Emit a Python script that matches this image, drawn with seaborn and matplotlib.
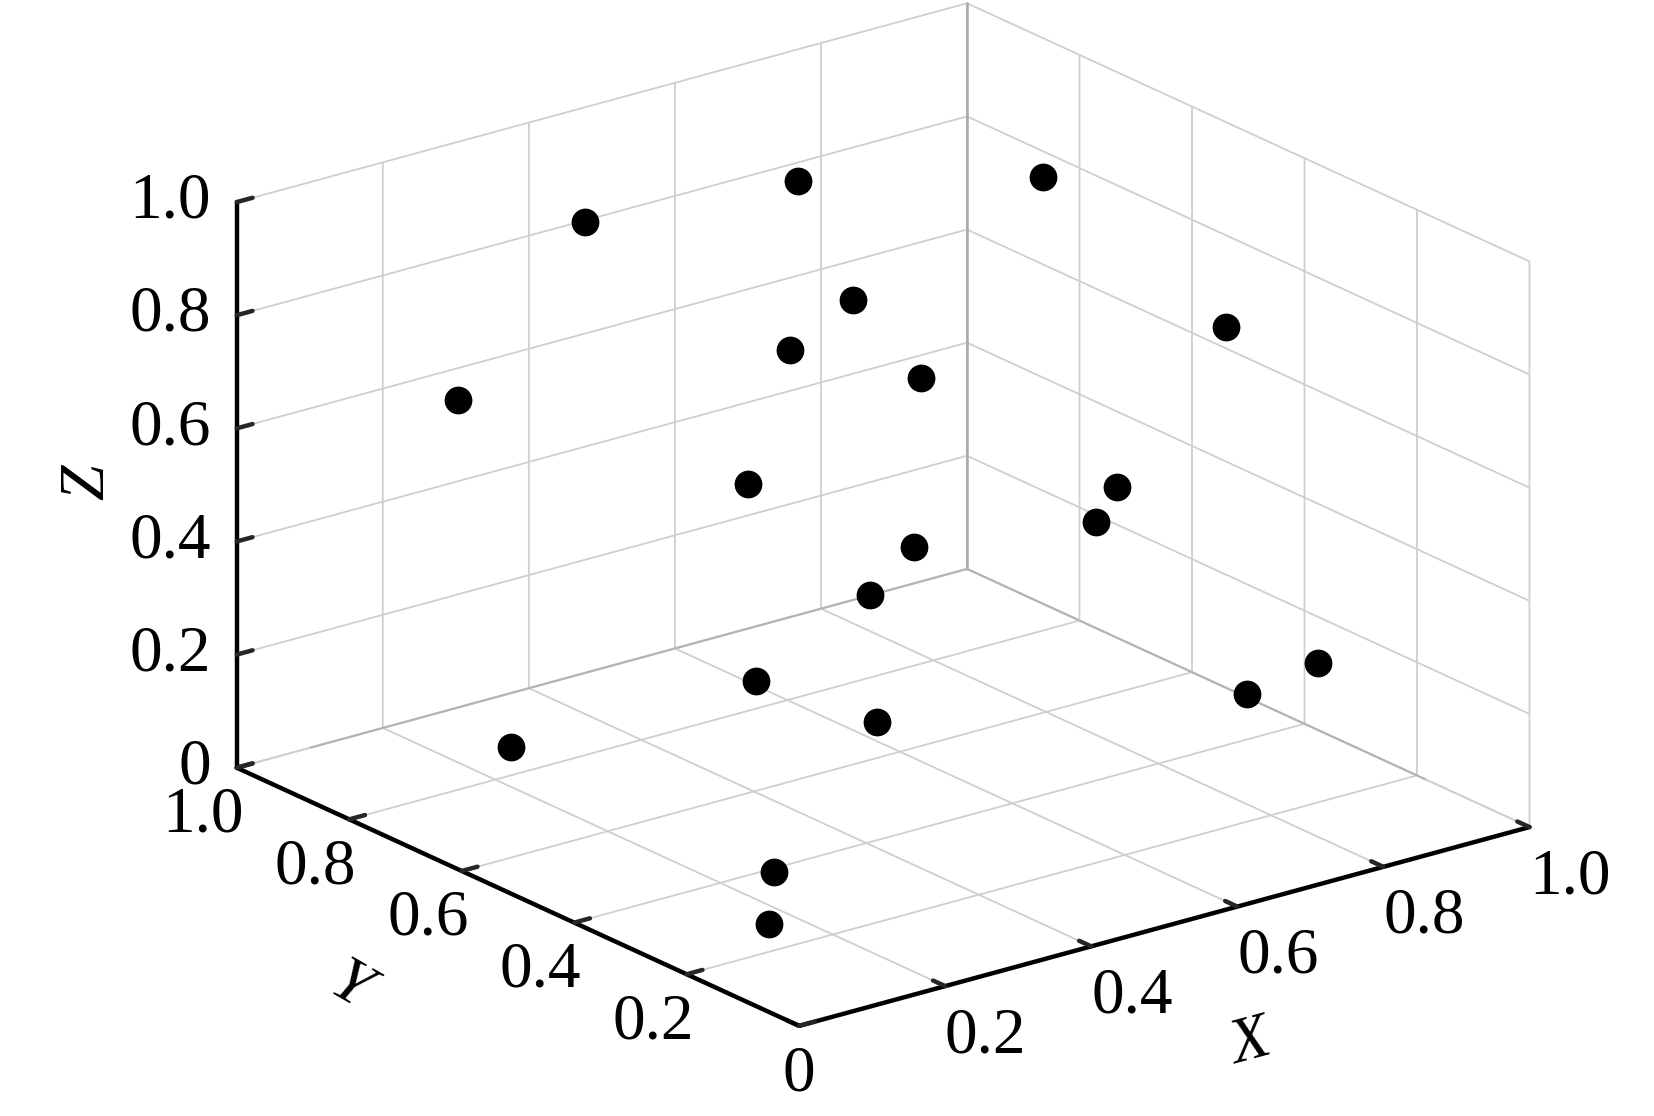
import seaborn as sns
import matplotlib.pyplot as plt
from mpl_toolkits.mplot3d import proj3d

# sample points
x_vals = [0.400, 0.614, 0.796, 0.613, 0.257, 0.513, 0.739, 0.110, 0.123, 0.551,
          0.714, 0.658, 0.752, 0.787, 0.652, 0.365, 0.337, 0.067, 0.058, 0.020]
y_vals = [0.90, 0.80, 0.60, 0.70, 0.35, 0.45, 0.20, 0.75, 0.25, 0.15,
          0.40, 0.65, 0.85, 0.10, 0.05, 0.55, 0.30, 0.60, 0.12, 0.08]
z_vals = [0.870, 0.913, 0.948, 0.748, 0.944, 0.760, 0.885, 0.725, 0.801, 0.691,
          0.457, 0.318, 0.109, 0.319, 0.335, 0.230, 0.282, 0.196, 0.196, 0.137]

ticks = [0, 0.2, 0.4, 0.6, 0.8, 1.0]
tick_labels = ["0", "0.2", "0.4", "0.6", "0.8", "1.0"]

sns.set_style("white")
plt.rcParams["font.family"] = ["Liberation Serif", "DejaVu Sans"]

fig = plt.figure(figsize=(16.54, 11.16), dpi=100)
ax = fig.add_axes([0.0248, 0.0254, 1, 1], projection="3d", proj_type="ortho")
ax.computed_zorder = False
ax.view_init(elev=20.7, azim=-127.6)
ax.set_box_aspect((1, 1, 0.656), zoom=1.25)

ax.set_xlim(0, 1, view_margin=0)
ax.set_ylim(0, 1, view_margin=0)
ax.set_zlim(0, 1, view_margin=0)
ax.set_xticks(ticks)
ax.set_yticks(ticks)
ax.set_zticks(ticks)
# native 3d tick labels can't be nudged separately, they are placed below
ax.set_xticklabels([])
ax.set_yticklabels([])
ax.set_zticklabels([])

for axis in [ax.xaxis, ax.yaxis, ax.zaxis]:
    axis.set_pane_color((1, 1, 1, 1))
    axis.pane.set_edgecolor("none")
    axis.line.set_color("black")
    axis.line.set_linewidth(3.2)
    axis._axinfo["grid"].update(color="#cfcfcf", linewidth=1.3)
    axis._axinfo["tick"].update(inward_factor=0, outward_factor=0.27,
                                linewidth={True: 3.2, False: 1})
    axis._axinfo["tick"]["color"] = "black"
ax.grid(True)

# darker edges where the walls meet
ax.plot([1, 1], [1, 1], [0, 1], color="#a8a8a8", lw=1.8, zorder=2)
ax.plot([0, 1], [1, 1], [0, 0], color="#b4b4b4", lw=1.5, zorder=2)
ax.plot([1, 1], [0, 1], [0, 0], color="#b4b4b4", lw=1.5, zorder=2)

ax.scatter(x_vals, y_vals, z_vals, s=400, c="black", depthshade=False,
           linewidths=0, zorder=5)


def tick_text(x, y, z, label, ha="center"):
    px, py, _ = proj3d.proj_transform(x, y, z, ax.get_proj())
    ax.text2D(px, py, label, transform=ax.transData, fontsize=47, color="black",
              ha=ha, va="center")


# tick labels, the x and y axes share one "0" at the front corner
for t, lab in zip(ticks, tick_labels):
    tick_text(-0.0223, 1.0171, t, lab, ha="right")
    if t == 0:
        tick_text(0, 0, -0.086, lab)
    else:
        tick_text(t, -0.072, -0.056, lab)
        tick_text(-0.046, t, -0.069, lab)

fig.text(1250 / 1654, 1 - 1044 / 1116, "X", fontsize=46, style="italic", rotation=15,
         ha="center", va="center", color="black")
fig.text(349 / 1654, 1 - 988 / 1116, "Y", fontsize=46, style="italic", rotation=-30,
         ha="center", va="center", color="black")
fig.text(88 / 1654, 1 - 482 / 1116, "Z", fontsize=46, style="italic", rotation=90,
         ha="center", va="center", color="black")

fig.savefig("out.png", dpi=100, facecolor="white")
